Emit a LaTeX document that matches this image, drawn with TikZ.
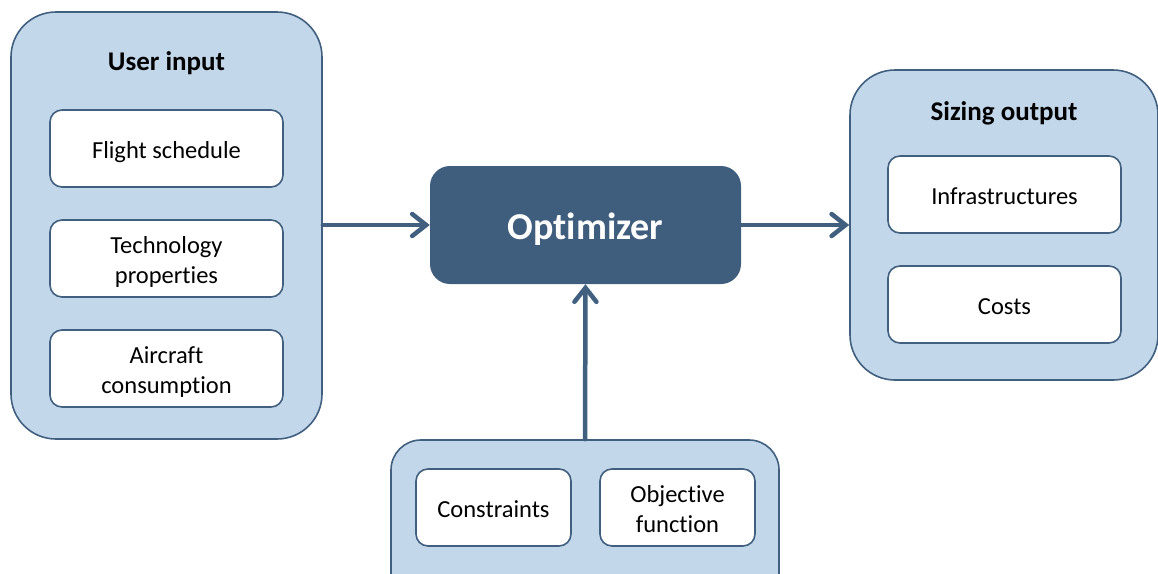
\documentclass[tikz,border=0pt]{standalone}
\usepackage{fontspec}
\setmainfont{Carlito}[Ligatures=NoCommon]
\usetikzlibrary{arrows.meta}
\definecolor{edgeblue}{HTML}{41607F}
\definecolor{panelblue}{HTML}{C3D7EB}
\definecolor{coreblue}{HTML}{3F5D7D}
% text block lowered inside its box while the box keeps its own size
\newcommand{\boxtext}[2][-4pt]{\raisebox{#1}[\height][\depth]{\begin{tabular}{@{}c@{}}#2\end{tabular}}}
\tikzset{
  panel/.style={draw=edgeblue, line width=1.6pt, fill=panelblue, rounded corners=45pt, inner sep=0pt},
  item/.style={draw=edgeblue, line width=1.6pt, fill=white, rounded corners=12pt, inner sep=0pt,
    font=\fontsize{24.5}{30}\selectfont, text=black},
  paneltitle/.style={font=\fontsize{27}{32}\selectfont\bfseries, text=black},
  core/.style={fill=coreblue, rounded corners=20pt, inner sep=0pt, text=white,
    font=\fontsize{38}{44}\selectfont\bfseries},
  flow/.style={draw=edgeblue, line width=4.5pt, line cap=round,
    -{Straight Barb[length=14pt, width=22pt, line cap=round]}}
}
\begin{document}
\begin{tikzpicture}[x=1pt, y=-1pt]
  \clip (0,0) rectangle (1158,573);
  \useasboundingbox (0,0) rectangle (1158,573);

  % input panel
  \node[panel, minimum width=311pt, minimum height=427pt] (input) at (166.5,225.5) {};
  \node[paneltitle] (inputtitle) at (166.5,63) {User input};
  \node[item, minimum width=233pt, minimum height=77pt] (flight) at (166.5,148.5) {\boxtext{Flight schedule}};
  \node[item, minimum width=233pt, minimum height=77pt] (tech) at (166.5,258.5) {\boxtext{Technology\\properties}};
  \node[item, minimum width=233pt, minimum height=77pt] (fuel) at (166.5,368.5) {\boxtext{Aircraft\\consumption}};

  % optimizer
  \node[core, minimum width=311pt, minimum height=118pt] (opt) at (585.5,225) {\boxtext[-6pt]{Optimizer}};

  % output panel
  \node[panel, minimum width=308pt, minimum height=310pt] (output) at (1004,225) {};
  \node[paneltitle] (outputtitle) at (1004,113) {Sizing output};
  \node[item, minimum width=233pt, minimum height=77pt] (infra) at (1004.5,194.5) {\boxtext{Infrastructures}};
  \node[item, minimum width=233pt, minimum height=77pt] (costs) at (1004.5,304.5) {\boxtext{Costs}};

  % problem definition panel
  \node[panel, rounded corners=30pt, minimum width=388pt, minimum height=180pt] (setup) at (585,530) {};
  \node[item, minimum width=155pt, minimum height=77pt] (cons) at (493.5,507.5) {\boxtext{Constraints}};
  \node[item, minimum width=155pt, minimum height=77pt] (obj) at (677.5,507.5) {\boxtext{Objective\\function}};

  % connectors
  \draw[flow] (input.east |- opt.west) -- (opt.west);
  \draw[flow] (opt.east) -- (opt.east -| output.west);
  \draw[flow] (setup.north) -- (opt.south);
\end{tikzpicture}
\end{document}
